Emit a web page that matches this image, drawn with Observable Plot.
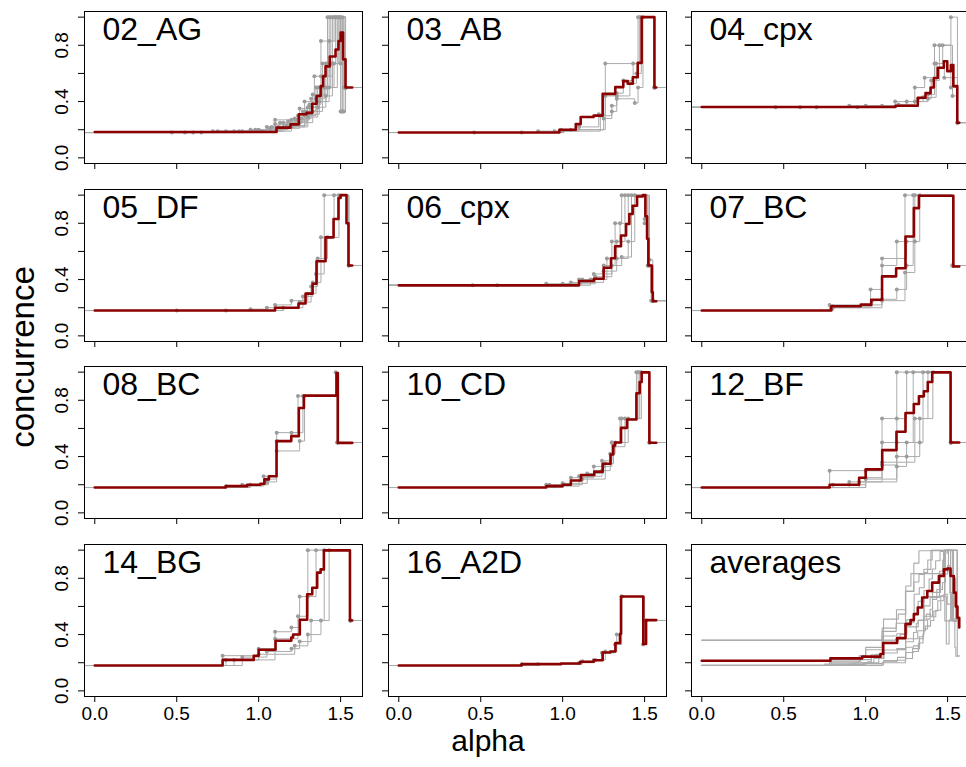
<!DOCTYPE html>
<html><head><meta charset="utf-8">
<script src="https://cdn.jsdelivr.net/npm/d3@7"></script>
<script src="https://cdn.jsdelivr.net/npm/@observablehq/plot@0.6"></script>
<style>
html,body{margin:0;padding:0;background:#fff;overflow:hidden;}
#root{position:relative;width:966px;height:767px;overflow:hidden;font-family:"Liberation Sans",Arial,sans-serif;}
.panel{position:absolute;}
.lab{position:absolute;color:#000;white-space:nowrap;}
</style></head><body><div id="root"></div><script>
// ---------- data ----------
const panelNames = ["02_AG","03_AB","04_cpx","05_DF","06_cpx","07_BC","08_BC","10_CD","12_BF","14_BG","16_A2D","averages"];
const baselines = [0.18,0.18,0.36,0.18,0.36,0.18,0.18,0.18,0.18,0.18,0.18];
const xTicks = [0, 0.5, 1.0, 1.5];
const yTicks = [0, 0.2, 0.4, 0.6, 0.8, 1.0];
const yTickLabels = [0, 0.4, 0.8];

// gray runs (step points) per panel
const runs02 = [
 [[0.85,0.19],[1.05,0.22],[1.2,0.27],[1.3,0.36],[1.36,0.5],[1.42,1.0],[1.53,0.5]],
 [[0.95,0.19],[1.1,0.24],[1.24,0.3],[1.32,0.42],[1.39,0.67],[1.44,1.0],[1.52,0.33],[1.53,0.5]],
 [[0.47,0.18],[1.0,0.2],[1.15,0.25],[1.27,0.33],[1.35,0.5],[1.41,0.67],[1.47,1.0],[1.53,0.5]],
 [[0.72,0.19],[1.12,0.22],[1.22,0.28],[1.28,0.4],[1.34,0.58],[1.38,0.83],[1.46,1.0],[1.5,0.67],[1.53,0.5]],
 [[0.6,0.18],[0.95,0.2],[1.18,0.26],[1.3,0.31],[1.37,0.4],[1.43,0.5],[1.48,1.0],[1.53,0.5]],
 [[0.88,0.19],[1.02,0.19],[1.2,0.22],[1.3,0.29],[1.36,0.36],[1.41,0.44],[1.45,0.67],[1.49,1.0],[1.53,0.5]],
 [[0.55,0.18],[1.1,0.27],[1.25,0.35],[1.33,0.45],[1.4,0.58],[1.45,1.0],[1.51,0.33],[1.53,0.5]],
 [[0.65,0.18],[1.07,0.21],[1.25,0.25],[1.33,0.33],[1.39,0.5],[1.44,0.67],[1.5,1.0],[1.53,0.5]],
 [[0.75,0.19],[1.15,0.22],[1.28,0.3],[1.35,0.42],[1.4,0.5],[1.43,0.83],[1.47,1.0],[1.51,0.33],[1.53,0.5]],
 [[0.9,0.19],[1.13,0.25],[1.26,0.28],[1.32,0.36],[1.37,0.44],[1.42,0.67],[1.49,1.0],[1.52,0.5]],
 [[0.98,0.2],[1.17,0.23],[1.29,0.33],[1.36,0.4],[1.41,0.5],[1.46,0.67],[1.51,1.0],[1.53,0.5]],
 [[0.8,0.19],[1.08,0.22],[1.23,0.27],[1.31,0.38],[1.38,0.58],[1.43,1.0],[1.5,0.33],[1.53,0.5]]
];
const runs03 = [
 [[0.46,0.18],[0.99,0.2],[1.26,0.67],[1.46,1.0],[1.56,0.5]],
 [[0.75,0.18],[1.0,0.19],[1.23,0.3],[1.3,0.37],[1.33,0.44],[1.41,0.53],[1.45,0.6],[1.48,1.0],[1.56,0.5]],
 [[0.85,0.19],[1.05,0.2],[1.25,0.28],[1.3,0.33],[1.33,0.42],[1.44,0.39],[1.46,0.5],[1.49,1.0],[1.56,0.5]],
 [[0.95,0.19],[1.1,0.22],[1.22,0.31],[1.26,0.44],[1.33,0.46],[1.37,0.55],[1.43,0.67],[1.47,1.0],[1.56,0.5]]
];
const runs04 = [
 [[0.45,0.36],[0.9,0.37],[1.2,0.38],[1.3,0.5],[1.36,0.57],[1.42,0.8],[1.52,1.0],[1.56,0.25]],
 [[0.6,0.36],[1.0,0.37],[1.25,0.4],[1.35,0.43],[1.43,0.67],[1.47,0.8],[1.53,0.44],[1.56,0.25]],
 [[0.95,0.36],[1.18,0.4],[1.32,0.42],[1.38,0.45],[1.42,0.67],[1.48,0.57],[1.56,0.25]],
 [[0.7,0.36],[1.1,0.37],[1.3,0.4],[1.38,0.42],[1.4,0.55],[1.45,0.8],[1.52,0.5],[1.56,0.25]]
];
const runs05 = [
 [[0.5,0.18],[1.1,0.22],[1.2,0.25],[1.3,0.3],[1.35,0.44],[1.4,1.0],[1.55,0.5]],
 [[0.8,0.18],[1.15,0.2],[1.27,0.28],[1.33,0.38],[1.38,0.7],[1.46,1.0],[1.55,0.5]],
 [[0.95,0.19],[1.05,0.2],[1.25,0.24],[1.32,0.35],[1.36,0.55],[1.42,0.7],[1.49,1.0],[1.55,0.5]]
];
const runs06 = [
 [[0.45,0.36],[1.1,0.4],[1.25,0.5],[1.32,0.8],[1.36,1.0],[1.5,0.8],[1.52,0.5],[1.54,0.25]],
 [[0.6,0.36],[1.17,0.4],[1.27,0.55],[1.33,0.67],[1.38,1.0],[1.52,0.5],[1.55,0.25]],
 [[1.0,0.37],[1.12,0.4],[1.19,0.44],[1.3,0.67],[1.35,0.8],[1.4,1.0],[1.53,0.5],[1.55,0.25]],
 [[0.9,0.37],[1.2,0.42],[1.3,0.5],[1.36,0.56],[1.42,1.0],[1.5,0.83],[1.53,0.54],[1.55,0.25]],
 [[1.05,0.38],[1.25,0.46],[1.33,0.55],[1.4,0.67],[1.44,1.0],[1.52,0.5],[1.55,0.25]]
];
const runs07 = [
 [[0.8,0.2],[1.03,0.33],[1.1,0.5],[1.19,0.67],[1.24,1.0],[1.53,0.5]],
 [[0.78,0.22],[1.1,0.26],[1.19,0.33],[1.25,0.5],[1.29,1.0],[1.53,0.5]],
 [[0.8,0.21],[1.04,0.25],[1.1,0.55],[1.25,0.67],[1.3,1.0],[1.53,0.5]],
 [[0.79,0.2],[1.1,0.25],[1.24,0.45],[1.3,0.67],[1.33,1.0],[1.53,0.5]]
];
const runs08 = [
 [[0.8,0.19],[1.03,0.26],[1.11,0.57],[1.24,0.83],[1.47,1.0],[1.48,0.5]],
 [[0.9,0.2],[1.05,0.22],[1.11,0.44],[1.25,0.51],[1.28,0.83],[1.48,0.5]],
 [[0.95,0.2],[1.06,0.24],[1.11,0.51],[1.2,0.57],[1.27,0.83],[1.48,0.5]]
];
const runs10 = [
 [[0.9,0.2],[1.05,0.25],[1.19,0.33],[1.24,0.37],[1.3,0.5],[1.35,0.67],[1.45,1.0],[1.53,0.5]],
 [[0.95,0.19],[1.1,0.26],[1.24,0.3],[1.29,0.42],[1.32,0.5],[1.4,0.67],[1.47,1.0],[1.53,0.5]],
 [[1.0,0.21],[1.15,0.28],[1.25,0.33],[1.3,0.5],[1.36,0.67],[1.46,1.0],[1.53,0.5]],
 [[0.92,0.2],[1.12,0.24],[1.26,0.35],[1.31,0.47],[1.38,0.67],[1.48,1.0],[1.53,0.5]]
];
const runs12 = [
 [[0.78,0.3],[1.1,0.67],[1.19,1.0],[1.52,0.5]],
 [[0.8,0.2],[1.0,0.25],[1.1,0.5],[1.19,0.67],[1.25,1.0],[1.52,0.5]],
 [[0.96,0.22],[1.19,0.4],[1.25,0.5],[1.29,1.0],[1.52,0.5]],
 [[1.0,0.3],[1.1,0.34],[1.19,0.33],[1.25,0.4],[1.33,0.5],[1.35,1.0],[1.52,0.5]],
 [[0.9,0.22],[1.1,0.36],[1.3,0.67],[1.38,1.0],[1.52,0.5]],
 [[1.0,0.24],[1.19,0.5],[1.33,0.67],[1.41,1.0],[1.52,0.5]]
];
const runs14 = [
 [[0.78,0.25],[1.0,0.3],[1.1,0.42],[1.2,0.45],[1.25,0.67],[1.3,1.0],[1.56,0.5]],
 [[0.8,0.22],[1.1,0.37],[1.24,0.53],[1.3,0.67],[1.35,1.0],[1.56,0.5]],
 [[0.9,0.24],[1.05,0.28],[1.2,0.3],[1.25,0.35],[1.32,0.5],[1.4,1.0],[1.56,0.5]],
 [[0.85,0.22],[1.0,0.26],[1.22,0.32],[1.3,0.4],[1.38,0.5],[1.43,1.0],[1.56,0.5]]
];
const runs16 = [
 [[0.75,0.19],[1.1,0.2],[1.19,0.22],[1.24,0.27],[1.32,0.33],[1.36,0.67],[1.49,0.33],[1.51,0.5]],
 [[0.85,0.19],[1.12,0.21],[1.2,0.22],[1.26,0.28],[1.33,0.4],[1.36,0.67],[1.5,0.5]]
];

// mean (red) curves per panel
const mean02 = [[0,0.184],[1.109,0.215],[1.194,0.238],[1.245,0.31],[1.292,0.32],[1.327,0.385],[1.353,0.44],[1.378,0.51],[1.393,0.58],[1.408,0.65],[1.434,0.72],[1.469,0.77],[1.487,0.83],[1.5,0.89],[1.515,0.7],[1.53,0.5],[1.571,0.5]];
const mean03 = [[0,0.18],[0.98,0.2],[1.08,0.24],[1.11,0.29],[1.189,0.30],[1.244,0.455],[1.321,0.503],[1.37,0.545],[1.397,0.527],[1.428,0.573],[1.458,0.675],[1.482,1.0],[1.56,0.5],[1.571,0.5]];
const mean04 = [[0,0.361],[1.182,0.37],[1.318,0.427],[1.365,0.46],[1.396,0.50],[1.416,0.568],[1.44,0.64],[1.477,0.687],[1.498,0.616],[1.52,0.66],[1.535,0.51],[1.559,0.25],[1.571,0.25]];
const mean05 = [[0,0.18],[1.1,0.2],[1.243,0.23],[1.286,0.3],[1.329,0.37],[1.353,0.53],[1.408,0.7],[1.457,0.83],[1.487,0.98],[1.5,1.0],[1.536,0.8],[1.548,0.5],[1.571,0.5]];
const mean06 = [[0,0.359],[1.10,0.39],[1.19,0.406],[1.25,0.484],[1.295,0.552],[1.32,0.637],[1.356,0.713],[1.387,0.795],[1.407,0.866],[1.427,0.925],[1.454,0.99],[1.489,1.0],[1.505,0.85],[1.515,0.69],[1.523,0.5],[1.544,0.31],[1.55,0.246],[1.571,0.246]];
const mean07 = [[0,0.18],[0.79,0.21],[0.97,0.222],[1.034,0.257],[1.10,0.423],[1.186,0.48],[1.243,0.706],[1.294,0.908],[1.325,0.996],[1.535,0.493],[1.571,0.493]];
const mean08 = [[0,0.18],[0.8,0.19],[0.93,0.2],[1.011,0.207],[1.035,0.238],[1.062,0.26],[1.109,0.51],[1.199,0.545],[1.245,0.745],[1.276,0.833],[1.475,0.993],[1.483,0.497],[1.571,0.497]];
const mean10 = [[0,0.18],[0.9,0.19],[1.0,0.2],[1.05,0.23],[1.112,0.269],[1.193,0.293],[1.244,0.349],[1.292,0.415],[1.309,0.479],[1.32,0.5],[1.356,0.604],[1.393,0.663],[1.45,0.85],[1.47,0.93],[1.482,0.998],[1.529,0.498],[1.571,0.498]];
const mean12 = [[0,0.18],[0.78,0.2],[0.96,0.25],[1.0,0.309],[1.101,0.446],[1.188,0.576],[1.243,0.71],[1.294,0.774],[1.325,0.828],[1.355,0.864],[1.379,0.93],[1.406,0.998],[1.518,0.5],[1.571,0.5]];
const mean14 = [[0,0.18],[0.78,0.22],[0.97,0.25],[1.0,0.292],[1.103,0.356],[1.199,0.379],[1.21,0.40],[1.251,0.505],[1.296,0.687],[1.327,0.733],[1.357,0.84],[1.378,0.863],[1.398,0.998],[1.557,0.5],[1.571,0.5]];
const mean16 = [[0,0.18],[0.75,0.19],[0.99,0.195],[1.107,0.207],[1.19,0.218],[1.244,0.273],[1.291,0.28],[1.322,0.34],[1.35,0.405],[1.356,0.67],[1.492,0.333],[1.509,0.503],[1.571,0.503]];
const meanAll = [[0,0.2145],[0.785,0.231],[0.979,0.243],[1.09,0.262],[1.107,0.34],[1.192,0.375],[1.243,0.474],[1.274,0.503],[1.294,0.545],[1.318,0.592],[1.345,0.663],[1.376,0.71],[1.406,0.769],[1.447,0.816],[1.477,0.863],[1.498,0.87],[1.518,0.816],[1.538,0.698],[1.55,0.6],[1.56,0.52],[1.571,0.45]];

const panelRuns = [runs02,runs03,runs04,runs05,runs06,runs07,runs08,runs10,runs12,runs14,runs16];
const panelMeans = [mean02,mean03,mean04,mean05,mean06,mean07,mean08,mean10,mean12,mean14,mean16,meanAll];

// ---------- layout ----------
const X_DOMAIN = [-0.0628, 1.6336];
const Y_DOMAIN = [-0.04, 1.04];
const W = 278, H = 152;
const ML = 46, MR = 2, MT = 2, MB = 44;
const colLeft = [84, 387.5, 691];
const rowTop = [10.7, 188.5, 366.3, 544];
const FONT = '"Liberation Sans", Arial, Helvetica, sans-serif';
const root = document.getElementById("root");

function drawPanel(i) {
  const r = Math.floor(i / 3), c = i % 3;
  const isAvg = i === 11;
  const lineRows = [], dotRows = [];
  if (!isAvg) {
    const base = baselines[i];
    panelRuns[i].forEach((run, k) => {
      lineRows.push({k, x: X_DOMAIN[0] - 0.1, y: base});
      run.forEach(([x, y]) => { lineRows.push({k, x, y}); dotRows.push({x, y}); });
      lineRows.push({k, x: X_DOMAIN[1] + 0.1, y: run[run.length - 1][1]});
    });
  } else {
    panelMeans.slice(0, 11).forEach((m, k) => m.forEach(([x, y]) => lineRows.push({k, x, y})));
  }
  const mean = panelMeans[i];
  const svg = Plot.plot({
    width: ML + W + MR, height: MT + H + MB,
    marginLeft: ML, marginRight: MR, marginTop: MT, marginBottom: MB,
    x: {domain: X_DOMAIN}, y: {domain: Y_DOMAIN},
    style: {fontFamily: FONT, fontSize: "19px", color: "#000", background: "transparent", overflow: "visible"},
    marks: [
      Plot.line(lineRows, {x: "x", y: "y", z: "k", curve: "step-after", stroke: "#ababab", strokeWidth: isAvg ? 1.1 : 1, clip: true}),
      isAvg ? null : Plot.dot(dotRows, {x: "x", y: "y", r: 2, fill: "#9c9c9c", clip: true}),
      Plot.line(mean, {x: d => d[0], y: d => d[1], curve: "step-after", stroke: "#8b0000", strokeWidth: 2.6}),
      Plot.frame({stroke: "#000", strokeWidth: 1}),
      Plot.axisX({ticks: xTicks, tickSize: 6, tickPadding: 4, tickFormat: r === 3 ? (d => d.toFixed(1)) : (() => ""), label: null}),
      Plot.axisY({ticks: yTicks, tickSize: 6, tickFormat: () => "", label: null}),
      c === 0 ? Plot.text(yTickLabels, {y: d => d, frameAnchor: "left", text: d => d.toFixed(1), rotate: -90, textAnchor: "middle", lineAnchor: "bottom", dx: -17, fontSize: 19}) : null,
      Plot.text([panelNames[i]], {frameAnchor: "top-left", text: d => d, dx: 18, dy: 28, textAnchor: "start", lineAnchor: "bottom", fontSize: 32})
    ]
  });
  svg.classList.add("panel");
  svg.style.left = (colLeft[c] - ML) + "px";
  svg.style.top = (rowTop[r] - MT) + "px";
  svg.style.maxWidth = "none";
  root.appendChild(svg);
}
for (let i = 0; i < 12; i++) drawPanel(i);

const yl = document.createElement("div");
yl.className = "lab"; yl.textContent = "concurrence";
yl.style.fontSize = "33px"; yl.style.lineHeight = "33px";
yl.style.left = "22px"; yl.style.top = "357px";
yl.style.transform = "translate(-50%,-50%) rotate(-90deg)";
root.appendChild(yl);
const xl = document.createElement("div");
xl.className = "lab"; xl.textContent = "alpha";
xl.style.fontSize = "30px"; xl.style.lineHeight = "26px";
xl.style.left = "488px"; xl.style.top = "728px";
xl.style.transform = "translateX(-50%)";
root.appendChild(xl);
</script></body></html>
